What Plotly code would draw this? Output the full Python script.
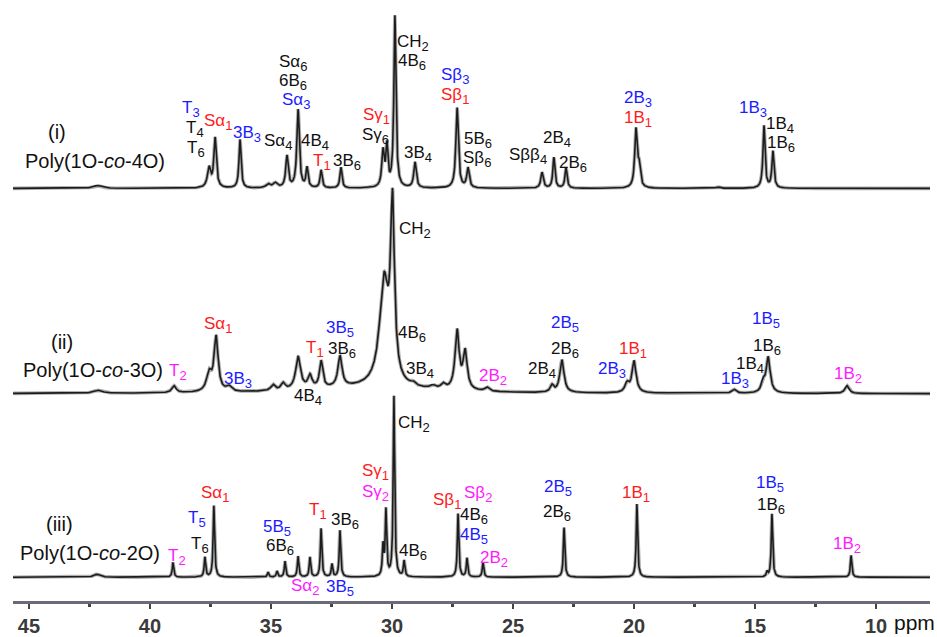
import numpy as np
import plotly.graph_objects as go

# ---------------- data: peak lists ----------------
# spectrum (i) Poly(1O-co-4O)
ppm_i = [42.19, 37.56, 37.31, 36.28, 35.12, 34.83, 34.34, 33.88, 33.51, 32.93, 32.11,
         30.37, 30.21, 29.88, 29.05, 27.31, 26.86, 23.80, 23.31, 22.81, 19.92, 19.79,
         16.53, 14.63, 14.26]
int_i = [3, 20, 50, 49, 4, 5, 32, 79, 20, 18, 21,
         36, 40, 173, 26, 81, 20, 16, 31, 21, 58, 20,
         1.5, 63, 37]
hw_i = [0.2, 0.08, 0.06, 0.05, 0.1, 0.1, 0.06, 0.06, 0.05, 0.05, 0.05,
        0.06, 0.05, 0.05, 0.06, 0.06, 0.06, 0.06, 0.05, 0.05, 0.06, 0.06,
        0.1, 0.05, 0.05]

# spectrum (ii) Poly(1O-co-3O)
ppm_ii = [42.15, 39.01, 37.56, 37.27, 36.74, 34.92, 34.50, 33.88, 33.39, 32.93, 32.15,
          31.0, 30.33, 29.98, 29.13, 28.31, 27.89, 27.31, 26.98, 26.07, 23.39, 22.98,
          20.29, 20.00, 15.87, 14.67, 14.46, 11.20]
int_ii = [3, 7, 18, 55, 5, 6, 7, 33, 13, 27, 31,
          6, 105, 172, 3, 3, 5, 59, 38, 4, 7, 33,
          9, 32, 4, 10, 36, 8]
hw_ii = [0.2, 0.1, 0.12, 0.1, 0.12, 0.1, 0.1, 0.12, 0.1, 0.08, 0.1,
         3.0, 0.22, 0.095, 0.1, 0.12, 0.1, 0.1, 0.1, 0.1, 0.08, 0.1,
         0.1, 0.1, 0.1, 0.08, 0.1, 0.1]

# spectrum (iii) Poly(1O-co-2O)
ppm_iii = [42.19, 39.05, 37.73, 37.36, 35.12, 34.75, 34.42, 33.88, 33.39, 32.93, 32.48,
           32.15, 30.37, 30.25, 29.92, 29.50, 27.27, 26.90, 26.24, 22.89, 19.88, 14.50,
           14.30, 11.03]
int_iii = [3, 15, 20, 72, 5, 6, 16, 21, 20, 49, 13,
           47, 30, 66, 182, 16, 64, 19, 15, 50, 74, 5,
           64, 22]
hw_iii = [0.15] + [0.035] * 23

# tick labels
tick_ppm = [45, 40, 35, 30, 25, 20, 15, 10]
minor_ppm = [42.5, 37.5, 32.5, 27.5, 22.5, 17.5, 12.5]

# peak assignment labels: (ppm, height above baseline, text, colour key)
labels_i = [
    (43.84, 57, "(i)", "k"), (42.27, 28, "Poly(1O-<i>co</i>-4O)", "k"),
    (38.30, 80, "T<sub>3</sub>", "b"), (38.16, 60, "T<sub>4</sub>", "k"),
    (38.10, 40, "T<sub>6</sub>", "k"), (37.20, 67, "Sα<sub>1</sub>", "r"),
    (36.01, 55, "3B<sub>3</sub>", "b"), (34.71, 47, "Sα<sub>4</sub>", "k"),
    (34.09, 126, "Sα<sub>6</sub>", "k"), (34.09, 107, "6B<sub>6</sub>", "k"),
    (33.97, 88, "Sα<sub>3</sub>", "b"), (33.18, 47, "4B<sub>4</sub>", "k"),
    (32.89, 27, "T<sub>1</sub>", "r"), (31.86, 27, "3B<sub>6</sub>", "k"),
    (30.62, 73, "Sγ<sub>1</sub>", "r"), (30.70, 53, "Sγ<sub>6</sub>", "k"),
    (29.13, 147, "CH<sub>2</sub>", "k"), (29.17, 127, "4B<sub>6</sub>", "k"),
    (28.93, 35, "3B<sub>4</sub>", "k"), (27.40, 113, "Sβ<sub>3</sub>", "b"),
    (27.40, 93, "Sβ<sub>1</sub>", "r"), (26.45, 49, "5B<sub>6</sub>", "k"),
    (26.49, 30, "Sβ<sub>6</sub>", "k"), (24.38, 33, "Sββ<sub>4</sub>", "k"),
    (23.18, 50, "2B<sub>4</sub>", "k"), (22.52, 25, "2B<sub>6</sub>", "k"),
    (19.83, 90, "2B<sub>3</sub>", "b"), (19.83, 70, "1B<sub>1</sub>", "r"),
    (15.08, 80, "1B<sub>3</sub>", "b"), (13.97, 64, "1B<sub>4</sub>", "k"),
    (13.93, 45, "1B<sub>6</sub>", "k"),
]
labels_ii = [
    (43.64, 52, "(ii)", "k"), (42.36, 24, "Poly(1O-<i>co</i>-3O)", "k"),
    (38.84, 22, "T<sub>2</sub>", "m"), (37.19, 69, "Sα<sub>1</sub>", "r"),
    (36.36, 14, "3B<sub>3</sub>", "b"), (33.47, -3, "4B<sub>4</sub>", "k"),
    (33.18, 45, "T<sub>1</sub>", "r"), (32.15, 65, "3B<sub>5</sub>", "b"),
    (32.07, 44, "3B<sub>6</sub>", "k"), (29.05, 165, "CH<sub>2</sub>", "k"),
    (29.17, 60, "4B<sub>6</sub>", "k"), (28.84, 24, "3B<sub>4</sub>", "k"),
    (25.83, 17, "2B<sub>2</sub>", "m"), (23.80, 24, "2B<sub>4</sub>", "k"),
    (22.85, 70, "2B<sub>5</sub>", "b"), (22.85, 44, "2B<sub>6</sub>", "k"),
    (20.91, 24, "2B<sub>3</sub>", "b"), (20.04, 44, "1B<sub>1</sub>", "r"),
    (15.83, 14, "1B<sub>3</sub>", "b"), (15.21, 29, "1B<sub>4</sub>", "k"),
    (14.55, 74, "1B<sub>5</sub>", "b"), (14.50, 47, "1B<sub>6</sub>", "k"),
    (11.16, 19, "1B<sub>2</sub>", "m"),
]
labels_iii = [
    (43.72, 54, "(iii)", "k"), (42.48, 24, "Poly(1O-<i>co</i>-2O)", "k"),
    (38.88, 20, "T<sub>2</sub>", "m"), (38.06, 59, "T<sub>5</sub>", "b"),
    (37.93, 32, "T<sub>6</sub>", "k"), (37.31, 84, "Sα<sub>1</sub>", "r"),
    (34.75, 50, "5B<sub>5</sub>", "b"), (34.63, 30, "6B<sub>6</sub>", "k"),
    (33.60, -10, "Sα<sub>2</sub>", "m"), (32.15, -11, "3B<sub>5</sub>", "b"),
    (33.06, 67, "T<sub>1</sub>", "r"), (31.94, 57, "3B<sub>6</sub>", "k"),
    (30.70, 106, "Sγ<sub>1</sub>", "r"), (30.70, 85, "Sγ<sub>2</sub>", "m"),
    (29.09, 154, "CH<sub>2</sub>", "k"), (29.13, 25, "4B<sub>6</sub>", "k"),
    (27.73, 77, "Sβ<sub>1</sub>", "r"), (26.45, 84, "Sβ<sub>2</sub>", "m"),
    (26.60, 62, "4B<sub>6</sub>", "k"), (26.62, 42, "4B<sub>5</sub>", "b"),
    (25.80, 18, "2B<sub>2</sub>", "m"), (23.14, 90, "2B<sub>5</sub>", "b"),
    (23.18, 65, "2B<sub>6</sub>", "k"), (19.92, 84, "1B<sub>1</sub>", "r"),
    (14.38, 94, "1B<sub>5</sub>", "b"), (14.34, 72, "1B<sub>6</sub>", "k"),
    (11.20, 32, "1B<sub>2</sub>", "m"),
]

# ---------------- layout constants ----------------
X_LEFT, X_RIGHT = 45.66, 7.77
OFFSETS = [416, 209, 24]          # vertical stacking offsets of the three traces
Y_TOP = 606
COLORS = {"k": "#111111", "b": "#1c1cff", "r": "#ff1a1a", "m": "#ff1aff"}
FONT = "Liberation Sans, Arial, sans-serif"
SUB_OPEN = '<sub><span style="font-size:13px">'
SUB_CLOSE = '</span></sub>'

x = np.linspace(X_LEFT, X_RIGHT, 8000)


def spectrum(ppms, ints, hws):
    y = np.zeros_like(x)
    for p, h, w in zip(ppms, ints, hws):
        y += h / (1.0 + ((x - p) / w) ** 2)
    return y


fig = go.Figure()
specs = [(ppm_i, int_i, hw_i), (ppm_ii, int_ii, hw_ii), (ppm_iii, int_iii, hw_iii)]
for (pp, ii, ww), off in zip(specs, OFFSETS):
    y = spectrum(pp, ii, ww) + off
    fig.add_trace(go.Scatter(x=x, y=y, mode="lines", hoverinfo="skip",
                             line=dict(color="rgba(110,110,110,0.55)", width=3.6)))
    fig.add_trace(go.Scatter(x=x, y=y, mode="lines", hoverinfo="skip",
                             line=dict(color="#1c1c1c", width=1.6)))

annotations = []
for labs, off in zip([labels_i, labels_ii, labels_iii], OFFSETS):
    for p, dy, txt, c in labs:
        big = txt.startswith("(") or txt.startswith("Poly")
        txt = txt.replace("<sub>", SUB_OPEN).replace("</sub>", SUB_CLOSE)
        annotations.append(dict(
            x=p, y=off + dy, xref="x", yref="y", text=txt, showarrow=False,
            xanchor="center", yanchor="middle",
            font=dict(family=FONT, size=20 if big else 17, color=COLORS[c])))

annotations.append(dict(x=8.43, y=-0.036, xref="x", yref="paper", text="ppm",
                        showarrow=False, xanchor="center", yanchor="middle",
                        font=dict(family=FONT, size=21, color="#111111")))

fig.update_layout(
    width=937, height=637,
    margin=dict(l=13, r=7, t=0, b=31),
    paper_bgcolor="white", plot_bgcolor="white",
    showlegend=False,
    annotations=annotations,
    xaxis=dict(range=[X_LEFT, X_RIGHT], tickvals=tick_ppm,
               ticktext=[str(t) for t in tick_ppm],
               showgrid=False, zeroline=False,
               showline=True, linecolor="#6b6b78", linewidth=3,
               ticks="outside", ticklen=5, tickwidth=2, tickcolor="#444444",
               tickfont=dict(family=FONT, size=20, color="#3a3a3a", weight="bold"),
               minor=dict(tickvals=minor_ppm, ticks="outside", ticklen=3,
                          tickwidth=3, tickcolor="#444444")),
    yaxis=dict(range=[0, Y_TOP], visible=False, fixedrange=True),
)

fig.write_html("out.html")
